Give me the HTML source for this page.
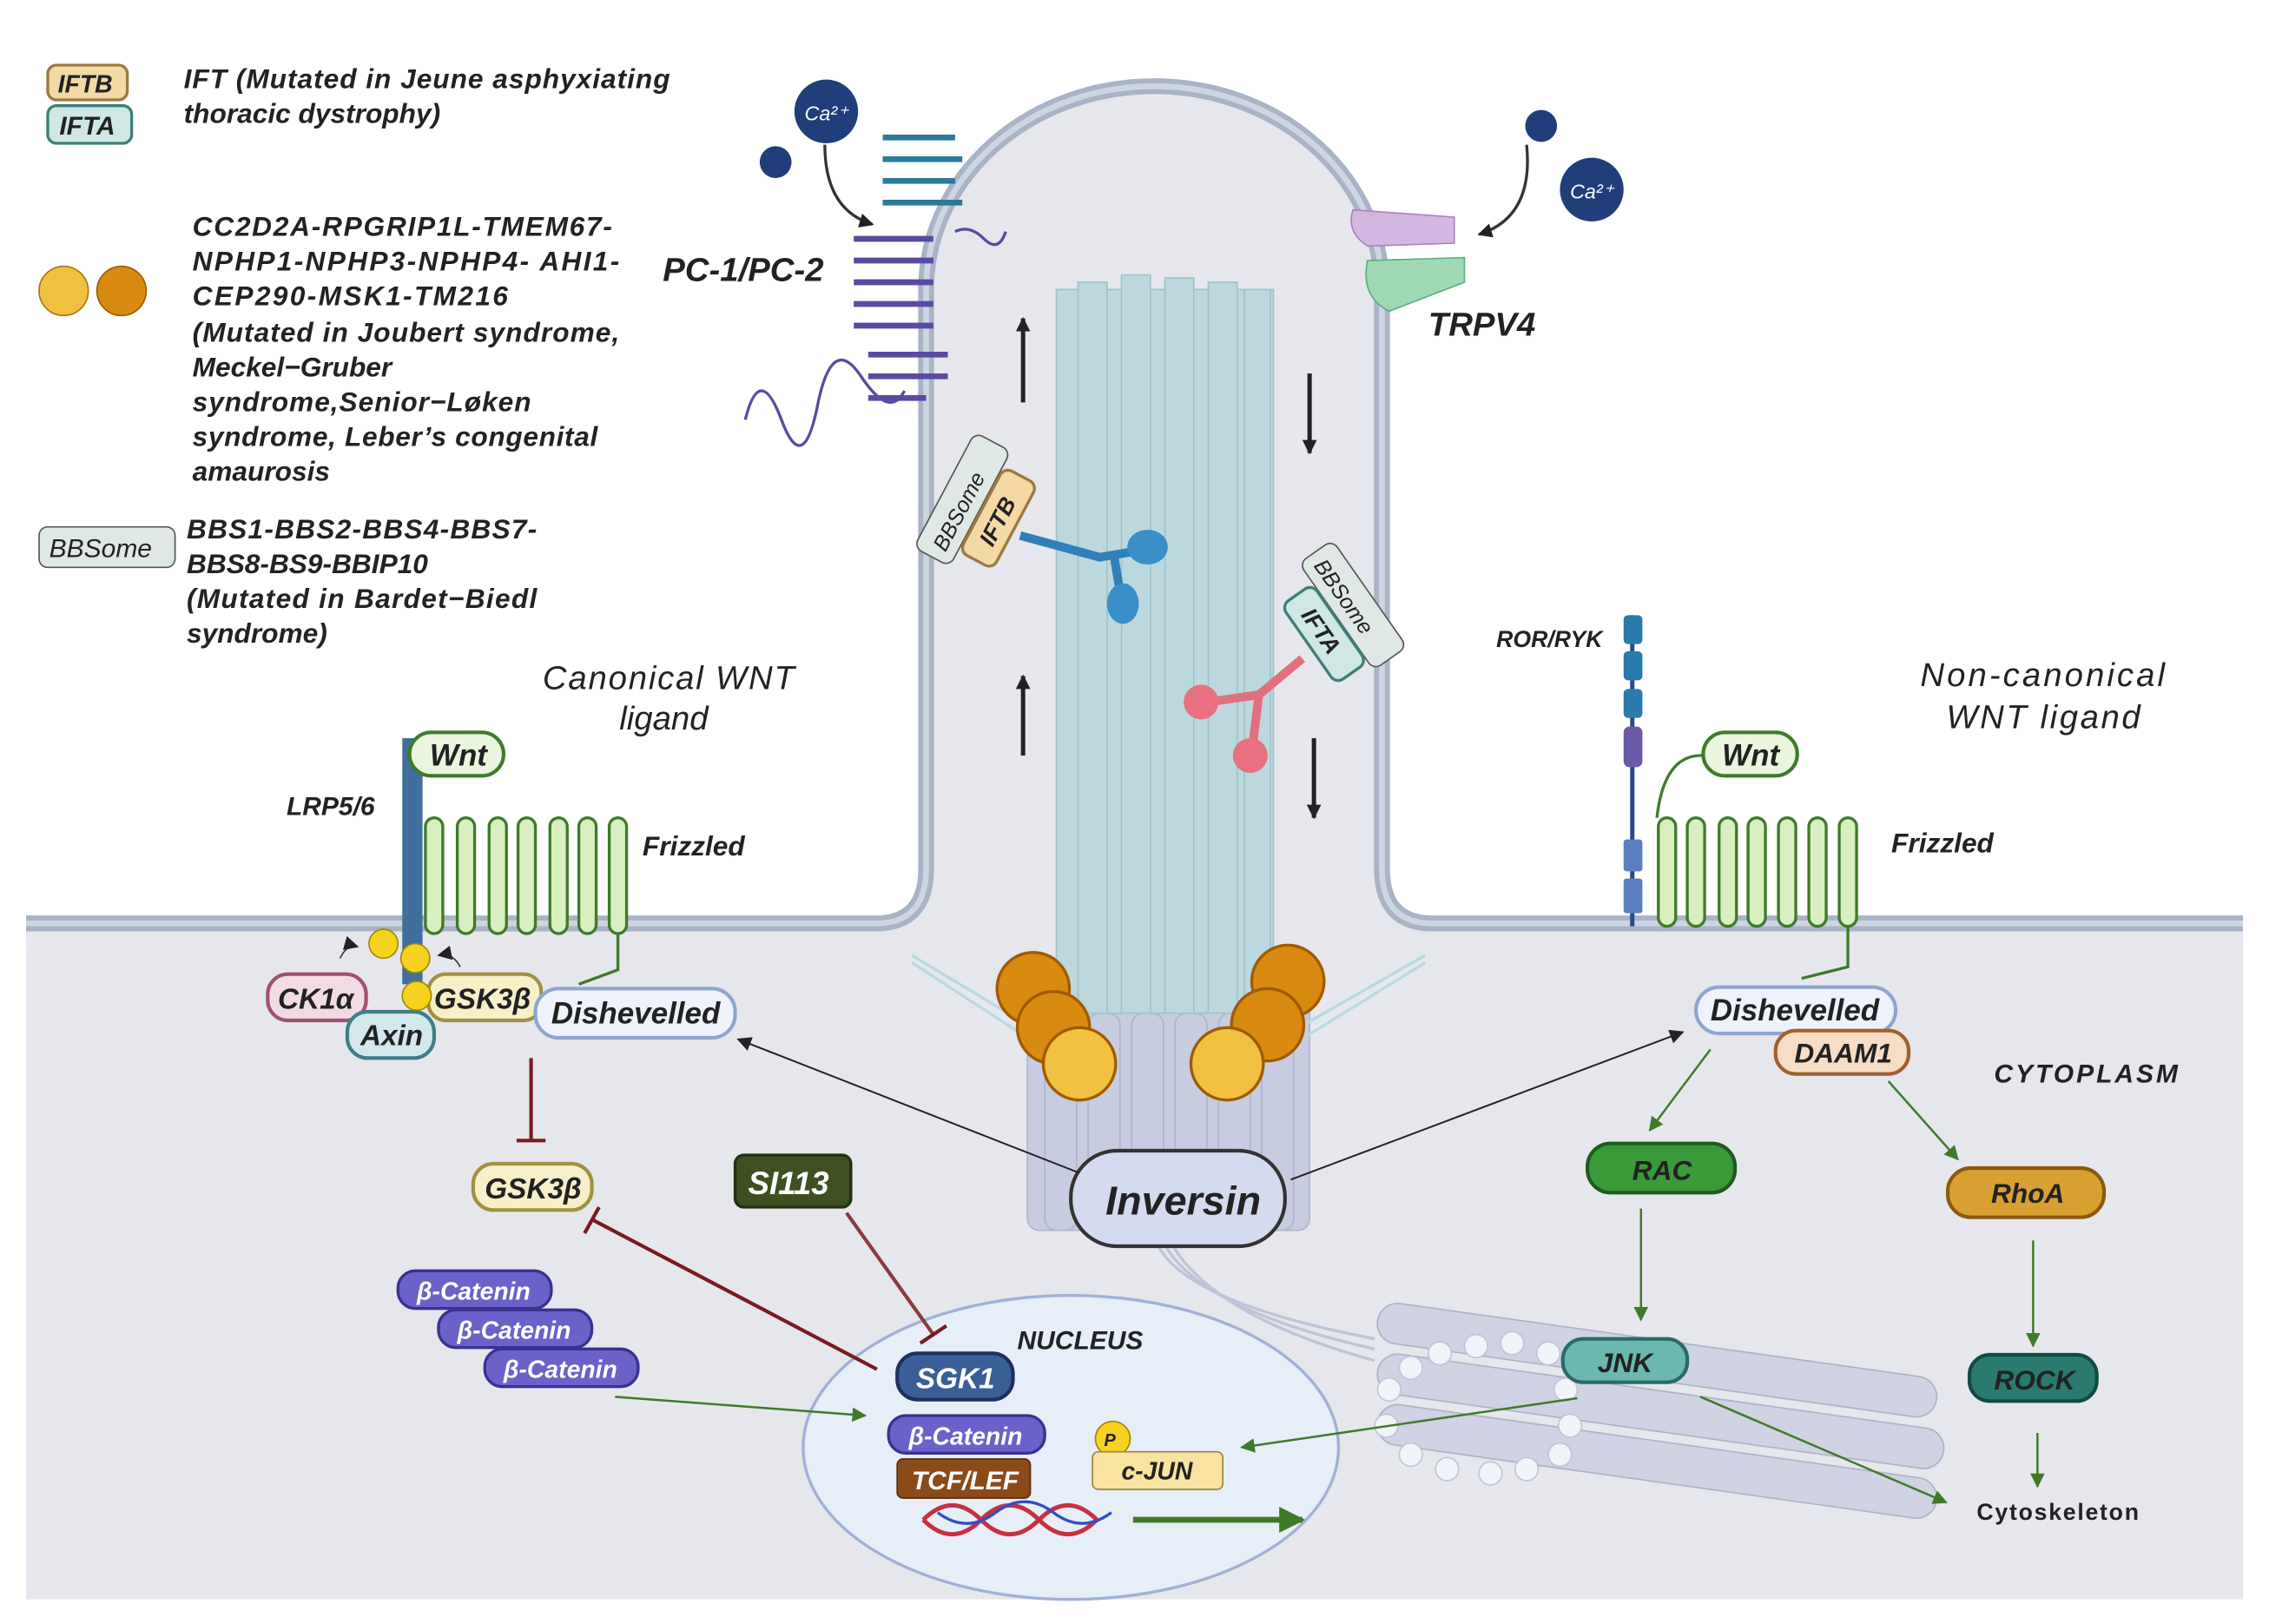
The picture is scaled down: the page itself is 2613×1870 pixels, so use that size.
<!DOCTYPE html>
<html><head><meta charset="utf-8"><style>
html,body{margin:0;padding:0;background:#fff;}
svg{display:block;}
text{font-family:"Liberation Sans",sans-serif;font-style:italic;font-weight:bold;fill:#222;}
.n{font-weight:normal;}
</style></head><body>
<svg width="2613" height="1870" viewBox="0 0 1568 1122" preserveAspectRatio="none" xmlns="http://www.w3.org/2000/svg">
<defs>
<marker id="ak" markerUnits="userSpaceOnUse" markerWidth="10" markerHeight="10" refX="9" refY="5" orient="auto"><path d="M0,0 L10,5 L0,10z" fill="#222"/></marker>
<marker id="ag" markerUnits="userSpaceOnUse" markerWidth="10" markerHeight="10" refX="9" refY="5" orient="auto"><path d="M0,0 L10,5 L0,10z" fill="#3f7a2a"/></marker>
<marker id="agb" markerUnits="userSpaceOnUse" markerWidth="18" markerHeight="18" refX="16" refY="9" orient="auto"><path d="M0,0 L18,9 L0,18z" fill="#3f7a2a"/></marker>
</defs>
<rect x="18" y="32" width="1532" height="1073" fill="#fff"/>
<path d="M18,640 L605,640 Q640,640 640,600 L640,200 A157,140 0 0 1 955,200 L955,600 Q955,640 990,640 L1550,640 L1550,1105 L18,1105z" fill="#e6e7ec"/>
<path d="M18,638 L605,638 Q640,638 640,600 L640,200 A157,140 0 0 1 955,200 L955,600 Q955,638 990,638 L1550,638" fill="none" stroke="#a9b3c6" stroke-width="11"/>
<path d="M18,638 L605,638 Q640,638 640,600 L640,200 A157,140 0 0 1 955,200 L955,600 Q955,638 990,638 L1550,638" fill="none" stroke="#cdd5e2" stroke-width="4"/>
<g fill="#c8cce0" stroke="#b0b5cc">
<rect x="710" y="690" width="195" height="160" rx="8"/>
<rect x="722" y="700" width="22" height="150" rx="8"/><rect x="752" y="700" width="22" height="150" rx="8"/><rect x="782" y="700" width="22" height="150" rx="8"/><rect x="812" y="700" width="22" height="150" rx="8"/><rect x="842" y="700" width="22" height="150" rx="8"/><rect x="872" y="700" width="22" height="150" rx="8"/>
</g>
<g fill="#bcd8de" stroke="#9fc3cb">
<rect x="730" y="200" width="150" height="500"/>
<rect x="745" y="195" width="20" height="505"/><rect x="775" y="190" width="20" height="510"/><rect x="805" y="192" width="20" height="508"/><rect x="835" y="195" width="20" height="505"/><rect x="860" y="200" width="18" height="500"/>
</g>
<path d="M630,660 L730,720 M630,665 L730,730 M985,660 L880,720 M985,665 L880,730" stroke="#b8dbe0" stroke-width="2"/>
<g stroke="#222" stroke-width="3" fill="none" marker-end="url(#ak)">
<line x1="707" y1="278" x2="707" y2="220"/><line x1="707" y1="522" x2="707" y2="467"/>
<line x1="905" y1="258" x2="905" y2="313"/><line x1="908" y1="510" x2="908" y2="565"/>
</g>
<g stroke="#a05a00" stroke-width="2">
<circle cx="714" cy="683" r="25" fill="#d98a10"/><circle cx="728" cy="710" r="25" fill="#d98a10"/><circle cx="746" cy="735" r="25" fill="#f0c040"/>
<circle cx="890" cy="678" r="25" fill="#d98a10"/><circle cx="876" cy="708" r="25" fill="#d98a10"/><circle cx="848" cy="735" r="25" fill="#f0c040"/>
</g>
<!-- Golgi -->
<g fill="#d0d3e3" stroke="#aeb2c8">
<rect x="950" y="925" width="390" height="28" rx="14" transform="rotate(8 1140 940)"/>
<rect x="950" y="960" width="395" height="28" rx="14" transform="rotate(8 1140 975)"/>
<rect x="950" y="995" width="390" height="28" rx="14" transform="rotate(8 1140 1010)"/>
</g>
<g fill="#f2f3f8" stroke="#c0c4d8">
<circle cx="960" cy="960" r="8"/><circle cx="975" cy="945" r="8"/><circle cx="995" cy="935" r="8"/><circle cx="1020" cy="930" r="8"/><circle cx="1045" cy="928" r="8"/><circle cx="1070" cy="935" r="8"/><circle cx="1082" cy="960" r="8"/><circle cx="1085" cy="985" r="8"/><circle cx="1078" cy="1005" r="8"/><circle cx="1055" cy="1015" r="8"/><circle cx="1030" cy="1018" r="8"/><circle cx="1000" cy="1015" r="8"/><circle cx="975" cy="1005" r="8"/><circle cx="958" cy="985" r="8"/>
</g>
<path d="M800,860 Q820,900 950,925 M810,860 Q840,910 950,940 M805,860 Q830,905 950,932" stroke="#c0c4d8" stroke-width="2" fill="none"/>
<ellipse cx="740" cy="1000" rx="185" ry="105" fill="#e6eef8" stroke="#9fb1d6" stroke-width="2"/>
<!-- legend -->
<rect x="33" y="45" width="55" height="24" rx="6" fill="#f4d9a5" stroke="#9a7a40" stroke-width="2"/><text x="40" y="64" font-size="17">IFTB</text>
<rect x="33" y="73" width="58" height="26" rx="6" fill="#cfe8e3" stroke="#3d7f78" stroke-width="2"/><text x="41" y="93" font-size="18">IFTA</text>
<text x="127" y="61" font-size="19" textLength="336">IFT (Mutated in Jeune asphyxiating</text>
<text x="127" y="85" font-size="19">thoracic dystrophy)</text>
<circle cx="44" cy="201" r="17" fill="#f0c040" stroke="#a07a10"/><circle cx="84" cy="201" r="17" fill="#d98a10" stroke="#a05a00"/>
<g font-size="19"><text x="133" y="163" textLength="290">CC2D2A-RPGRIP1L-TMEM67-</text><text x="133" y="187" textLength="295">NPHP1-NPHP3-NPHP4- AHI1-</text><text x="133" y="211" textLength="218">CEP290-MSK1-TM216</text><text x="133" y="236" textLength="295">(Mutated in Joubert syndrome,</text><text x="133" y="260">Meckel−Gruber</text><text x="133" y="284" textLength="234">syndrome,Senior−Løken</text><text x="133" y="308" textLength="280">syndrome, Leber’s congenital</text><text x="133" y="332">amaurosis</text>
<text x="129" y="372" textLength="242">BBS1-BBS2-BBS4-BBS7-</text><text x="129" y="396">BBS8-BS9-BBIP10</text><text x="129" y="420" textLength="242">(Mutated in Bardet−Biedl</text><text x="129" y="444">syndrome)</text></g>
<rect x="27" y="364" width="94" height="28" rx="6" fill="#dfe8e4" stroke="#555"/><text x="34" y="385" font-size="18" class="n">BBSome</text>
<g fill="#1f3e7a"><circle cx="571" cy="77" r="22"/><circle cx="536" cy="112" r="11"/><circle cx="1065" cy="87" r="11"/><circle cx="1100" cy="131" r="22"/></g>
<text x="556" y="83" font-size="14" class="n" style="fill:#fff">Ca²⁺</text><text x="1085" y="137" font-size="14" class="n" style="fill:#fff">Ca²⁺</text>
<path d="M570,100 Q570,145 603,155" stroke="#333" stroke-width="2" fill="none" marker-end="url(#ak)"/>
<path d="M1055,100 Q1060,150 1022,162" stroke="#333" stroke-width="2" fill="none" marker-end="url(#ak)"/>
<g fill="none" stroke-width="4">
<path d="M610,95 h50 M610,110 h55 M610,125 h50 M610,140 h55" stroke="#2a7a9a"/>
<path d="M590,165 h55 M590,180 h55 M590,195 h55 M590,210 h55 M590,225 h55 M600,245 h55 M600,260 h55 M600,275 h40" stroke="#5b4aa0"/>
<path d="M515,290 q10,-40 25,0 t25,-10 t30,-20 t30,10" stroke="#5b4aa0" stroke-width="2"/>
<path d="M660,160 q10,-5 20,5 t15,-5" stroke="#5b4aa0" stroke-width="2"/>
</g>
<text x="458" y="194" font-size="23">PC-1/PC-2</text>
<path d="M935,145 L1005,150 L1005,168 L945,170 Q930,160 935,145z" fill="#d3b7e0" stroke="#b080c0"/>
<path d="M945,180 L1012,178 L1012,195 L960,215 Q940,205 945,180z" fill="#9fd8b3" stroke="#5ab080"/>
<text x="987" y="232" font-size="23">TRPV4</text>
<g transform="translate(665,345) rotate(-62)"><rect x="-45" y="-14" width="90" height="28" rx="6" fill="#dfe8e4" stroke="#555"/><text x="-38" y="7" font-size="15" class="n">BBSome</text></g>
<g transform="translate(690,358) rotate(-62)"><rect x="-33" y="-13" width="66" height="26" rx="6" fill="#f4d9a5" stroke="#9a7a40" stroke-width="2"/><text x="-20" y="6" font-size="16">IFTB</text></g>
<path d="M705,370 L760,385 L790,380 M770,385 L775,415" stroke="#2f80b8" stroke-width="6" fill="none"/>
<ellipse cx="793" cy="378" rx="14" ry="12" fill="#3a8fc8"/><ellipse cx="776" cy="417" rx="11" ry="14" fill="#3a8fc8"/>
<g transform="translate(935,418) rotate(55)"><rect x="-45" y="-14" width="90" height="28" rx="6" fill="#dfe8e4" stroke="#555"/><text x="-38" y="7" font-size="15" class="n">BBSome</text></g>
<g transform="translate(915,438) rotate(55)"><rect x="-33" y="-13" width="66" height="26" rx="6" fill="#cfe8e3" stroke="#3d7f78" stroke-width="2"/><text x="-20" y="6" font-size="16">IFTA</text></g>
<path d="M900,455 L870,480 L835,485 M870,480 L865,520" stroke="#e0707e" stroke-width="6" fill="none"/>
<circle cx="830" cy="485" r="12" fill="#e87080"/><circle cx="864" cy="522" r="12" fill="#e87080"/>
<text x="375" y="476" font-size="23" class="n" textLength="174">Canonical WNT</text><text x="428" y="504" font-size="23" class="n">ligand</text>
<rect x="278" y="510" width="14" height="170" fill="#3f6f9a"/>
<text x="198" y="563" font-size="18">LRP5/6</text>
<g fill="#d8efc0" stroke="#3f7a2a" stroke-width="2">
<rect x="294" y="565" width="12" height="80" rx="6"/><rect x="316" y="565" width="12" height="80" rx="6"/><rect x="338" y="565" width="12" height="80" rx="6"/><rect x="358" y="565" width="12" height="80" rx="6"/><rect x="380" y="565" width="12" height="80" rx="6"/><rect x="400" y="565" width="12" height="80" rx="6"/><rect x="421" y="565" width="12" height="80" rx="6"/>
</g>
<path d="M427,645 L427,670 L400,680" stroke="#3f7a2a" stroke-width="2" fill="none"/>
<rect x="283" y="506" width="65" height="30" rx="15" fill="#e9f5dc" stroke="#3f7a2a" stroke-width="2.5"/><text x="297" y="529" font-size="21">Wnt</text>
<text x="444" y="591" font-size="19">Frizzled</text>
<rect x="185" y="673" width="68" height="32" rx="14" fill="#f2dce4" stroke="#a05070" stroke-width="2.5"/><text x="192" y="697" font-size="20">CK1α</text>
<rect x="240" y="699" width="60" height="32" rx="14" fill="#d2e8ec" stroke="#3d7f88" stroke-width="2.5"/><text x="249" y="722" font-size="20">Axin</text>
<rect x="296" y="673" width="78" height="32" rx="12" fill="#f6efc8" stroke="#a09040" stroke-width="2.5"/><text x="300" y="697" font-size="20">GSK3β</text>
<g fill="#f5d220" stroke="#a08800"><circle cx="265" cy="652" r="10"/><circle cx="287" cy="662" r="10"/><circle cx="288" cy="688" r="10"/></g>
<rect x="370" y="683" width="138" height="34" rx="16" fill="#eef2fa" stroke="#8fa5d0" stroke-width="2.5"/><text x="381" y="707" font-size="21">Dishevelled</text>
<line x1="367" y1="731" x2="367" y2="787" stroke="#7a1a20" stroke-width="2.5"/><line x1="357" y1="788" x2="377" y2="788" stroke="#7a1a20" stroke-width="2.5"/>
<rect x="327" y="804" width="82" height="32" rx="14" fill="#f6efc8" stroke="#a09040" stroke-width="2.5"/><text x="335" y="828" font-size="20">GSK3β</text>
<rect x="508" y="798" width="80" height="36" rx="6" fill="#3e5020" stroke="#223010" stroke-width="2"/><text x="517" y="825" font-size="22" style="fill:#fff">SI113</text>
<g fill="#6a62c8" stroke="#3a3290" stroke-width="2">
<rect x="275" y="878" width="106" height="26" rx="12"/><rect x="303" y="905" width="106" height="26" rx="12"/><rect x="335" y="932" width="106" height="26" rx="12"/>
<rect x="614" y="978" width="108" height="26" rx="12"/></g>
<g font-size="17"><text x="288" y="898" style="fill:#fff">β-Catenin</text><text x="316" y="925" style="fill:#fff">β-Catenin</text><text x="348" y="952" style="fill:#fff">β-Catenin</text><text x="628" y="998" style="fill:#fff">β-Catenin</text></g>
<line x1="425" y1="965" x2="598" y2="978" stroke="#3f7a2a" stroke-width="1.5" marker-end="url(#ag)"/>
<line x1="606" y1="946" x2="410" y2="843" stroke="#7a1a20" stroke-width="2.5"/><line x1="404" y1="852" x2="414" y2="834" stroke="#7a1a20" stroke-width="2.5"/>
<line x1="585" y1="838" x2="645" y2="922" stroke="#8a3a40" stroke-width="2.5"/><line x1="636" y1="928" x2="654" y2="916" stroke="#7a1a20" stroke-width="2.5"/>
<text x="703" y="932" font-size="18">NUCLEUS</text>
<rect x="620" y="935" width="80" height="32" rx="14" fill="#3a5e96" stroke="#1c3060" stroke-width="2.5"/><text x="633" y="959" font-size="20" style="fill:#fff">SGK1</text>
<rect x="620" y="1008" width="92" height="27" rx="4" fill="#8a4a1a" stroke="#5a2a08"/><text x="630" y="1029" font-size="18" style="fill:#fff">TCF/LEF</text>
<circle cx="769" cy="994" r="12" fill="#f5d220" stroke="#a08800"/><text x="763" y="999" font-size="12">P</text>
<rect x="755" y="1003" width="90" height="26" rx="4" fill="#f8e4a0" stroke="#a08040"/><text x="775" y="1022" font-size="17">c-JUN</text>
<path d="M638,1050 q20,-20 40,0 t40,0 t40,0 M638,1050 q20,20 40,0 t40,0 t40,0" stroke="#c83040" stroke-width="3" fill="none"/>
<path d="M648,1045 q20,15 40,0 t40,0 t40,0" stroke="#3050c0" stroke-width="2" fill="none"/>
<line x1="783" y1="1050" x2="900" y2="1050" stroke="#3f7a2a" stroke-width="4" marker-end="url(#agb)"/>
<rect x="740" y="795" width="148" height="66" rx="32" fill="#d4daef" stroke="#333" stroke-width="2.5"/><text x="764" y="839" font-size="28">Inversin</text>
<line x1="745" y1="810" x2="510" y2="718" stroke="#222" stroke-width="1.2" marker-end="url(#ak)"/>
<line x1="892" y1="815" x2="1163" y2="713" stroke="#222" stroke-width="1.2" marker-end="url(#ak)"/>
<text x="1327" y="474" font-size="23" class="n" textLength="169">Non-canonical</text><text x="1345" y="503" font-size="23" class="n" textLength="134">WNT ligand</text>
<text x="1034" y="447" font-size="16">ROR/RYK</text>
<line x1="1128" y1="425" x2="1128" y2="640" stroke="#2a4a8a" stroke-width="3"/>
<g fill="#2a7aaa"><rect x="1122" y="425" width="13" height="20" rx="3"/><rect x="1122" y="450" width="13" height="20" rx="3"/><rect x="1122" y="476" width="13" height="20" rx="3"/></g>
<rect x="1122" y="502" width="13" height="28" rx="4" fill="#6a5aa8"/>
<rect x="1122" y="580" width="13" height="22" rx="2" fill="#5a7ec0"/><rect x="1122" y="607" width="13" height="24" rx="2" fill="#5a7ec0"/>
<g fill="#d8efc0" stroke="#3f7a2a" stroke-width="2">
<rect x="1146" y="565" width="12" height="75" rx="6"/><rect x="1166" y="565" width="12" height="75" rx="6"/><rect x="1188" y="565" width="12" height="75" rx="6"/><rect x="1208" y="565" width="12" height="75" rx="6"/><rect x="1229" y="565" width="12" height="75" rx="6"/><rect x="1250" y="565" width="12" height="75" rx="6"/><rect x="1271" y="565" width="12" height="75" rx="6"/>
</g>
<path d="M1277,640 L1277,668 L1245,676" stroke="#3f7a2a" stroke-width="2" fill="none"/>
<path d="M1145,565 Q1150,520 1178,522" stroke="#3f7a2a" stroke-width="2" fill="none"/>
<rect x="1177" y="506" width="65" height="30" rx="15" fill="#e9f5dc" stroke="#3f7a2a" stroke-width="2.5"/><text x="1190" y="529" font-size="21">Wnt</text>
<text x="1307" y="589" font-size="19">Frizzled</text>
<rect x="1172" y="682" width="138" height="32" rx="16" fill="#eef2fa" stroke="#8fa5d0" stroke-width="2.5"/><text x="1182" y="705" font-size="21">Dishevelled</text>
<rect x="1227" y="712" width="92" height="30" rx="14" fill="#f8dcc4" stroke="#a06030" stroke-width="2.5"/><text x="1240" y="734" font-size="19">DAAM1</text>
<text x="1378" y="748" font-size="18" textLength="127">CYTOPLASM</text>
<rect x="1097" y="790" width="102" height="34" rx="16" fill="#3a9a3a" stroke="#1f5a1f" stroke-width="2.5"/><text x="1128" y="815" font-size="19">RAC</text>
<rect x="1346" y="807" width="108" height="34" rx="16" fill="#d8a030" stroke="#8a5a10" stroke-width="2.5"/><text x="1376" y="831" font-size="19">RhoA</text>
<rect x="1080" y="925" width="86" height="30" rx="14" fill="#6ab8b0" stroke="#2a6a68" stroke-width="2.5"/><text x="1104" y="948" font-size="19">JNK</text>
<rect x="1361" y="936" width="88" height="32" rx="14" fill="#2a7a70" stroke="#124a44" stroke-width="2.5"/><text x="1378" y="960" font-size="19">ROCK</text>
<text x="1366" y="1050" font-size="16" style="font-style:normal" textLength="112">Cytoskeleton</text>
<g stroke="#3f7a2a" stroke-width="1.5" marker-end="url(#ag)">
<line x1="1182" y1="725" x2="1140" y2="781"/><line x1="1305" y1="747" x2="1353" y2="801"/>
<line x1="1134" y1="835" x2="1134" y2="912"/><line x1="1405" y1="857" x2="1405" y2="930"/>
<line x1="1408" y1="990" x2="1408" y2="1027"/>
<line x1="1090" y1="966" x2="858" y2="1000"/><line x1="1175" y1="965" x2="1345" y2="1038"/>
</g>
<path d="M235,662 q5,-10 12,-8" stroke="#333" fill="none" marker-end="url(#ak)"/>
<path d="M318,668 q-5,-10 -15,-8" stroke="#333" fill="none" marker-end="url(#ak)"/>
</svg>
</body></html>
